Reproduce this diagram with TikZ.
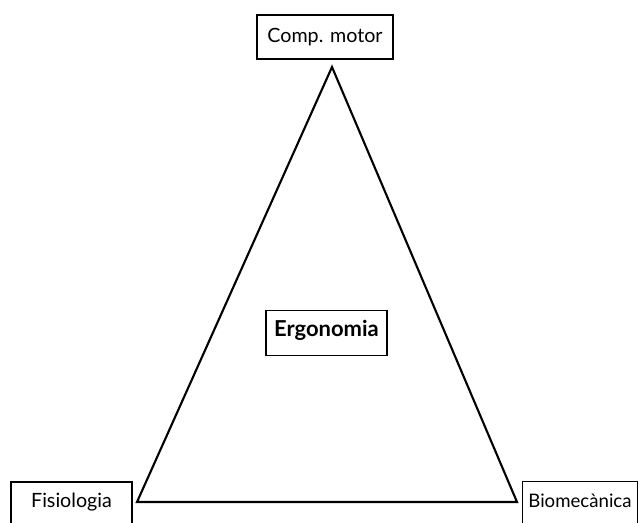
\documentclass[tikz,border=0pt]{standalone}
\usepackage{fontspec}
\setmainfont{Lato}
\usepackage{tikz}
\usetikzlibrary{positioning}
\tikzset{
  box/.style={draw=black, line width=0.6pt, inner sep=0pt, font=\fontsize{11.2}{13}\selectfont},
  side/.style={draw=black, line width=1.2pt, line join=miter, line cap=round},
}

\begin{document}
\begin{tikzpicture}[x=0.02cm,y=-0.02cm]
  \useasboundingbox (0,0) rectangle (642,522);
  \clip (0,0) rectangle (642,522);
  % boxes, baseline fixed by text height / depth
  \node[box, minimum width=2.72cm, text height=0.54cm, text depth=0.34cm] (motor) at (325,37) {Comp. motor};
  \node[box, minimum width=2.42cm, text height=0.52cm, text depth=0.38cm, font=\fontsize{12.5}{14}\selectfont\bfseries] (ergo) at (326.5,333) {Ergonomia};
  \node[box, minimum width=2.42cm, text height=0.50cm, text depth=0.50cm] (fisio) at (71.5,507) {Fisiologia};
  \node[box, minimum width=2.30cm, text height=0.52cm, text depth=0.50cm, font=\fontsize{10.6}{13}\selectfont] (biomec) at (580,507) {Biomecànica};
  % triangle
  \coordinate (top) at (332,67);
  \coordinate (left) at (137,502);
  \coordinate (right) at (517,502);
  \draw[side] (top) -- (left) -- (right) -- cycle;
\end{tikzpicture}
\end{document}
